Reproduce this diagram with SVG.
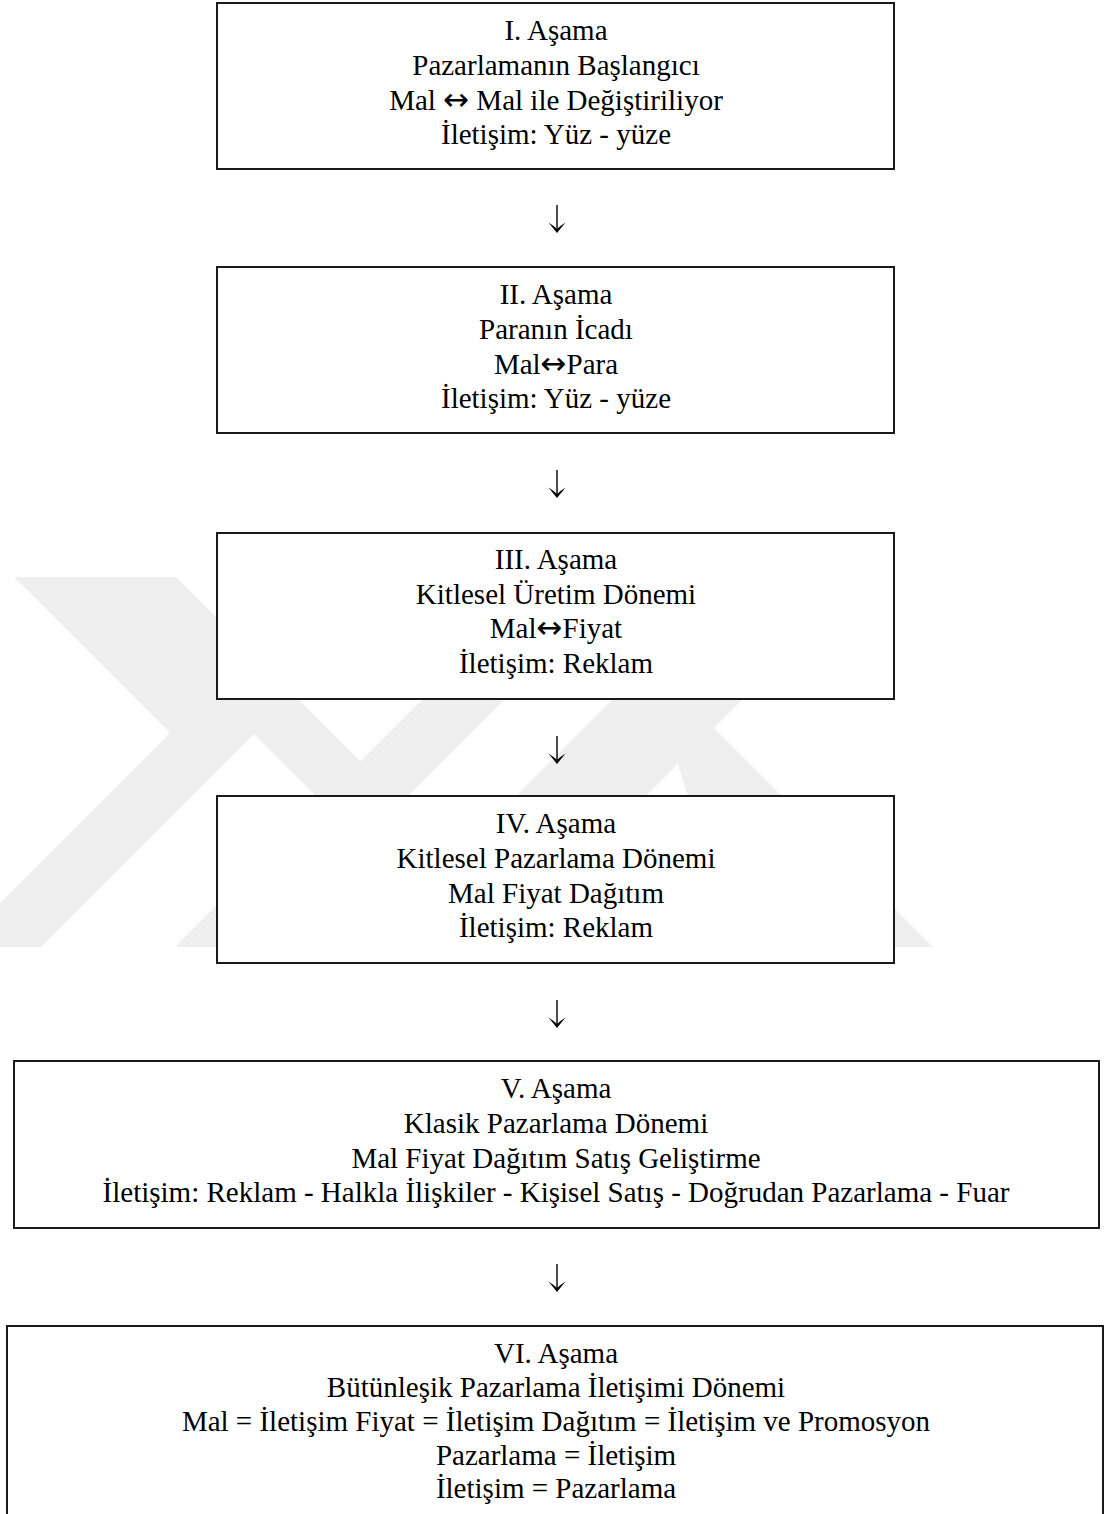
<svg xmlns="http://www.w3.org/2000/svg" width="1104" height="1514" viewBox="0 0 1104 1514">
<style>
.wm{fill:#efefef;}
.box{fill:#fff;stroke:#1a1a1a;stroke-width:2;}
.t{font-family:"Liberation Serif","Times New Roman",serif;font-size:29px;fill:#000;text-anchor:middle;}
.ar{font-family:"DejaVu Sans",sans-serif;font-size:31px;}
</style>
<defs>
<g id="down">
<line x1="0" y1="0" x2="0" y2="25" stroke="#000" stroke-width="1.4"/>
<path d="M0,28 L-8.5,17.5 Q-3,21 0,24 Q3,21 8.5,17.5 Z" fill="#000"/>
</g>
</defs>
<rect width="1104" height="1514" fill="#fff"/>
<g id="watermark">
<polygon class="wm" points="14,577 99,577 255,733 41,947 -44,947 170,733"/>
<polygon class="wm" points="96,577 176,577 401,802 175,947 257,947 321,801"/>
<polygon class="wm" points="175,947 257,947 627,577 545,577"/>
<polygon class="wm" points="365,947 495,947 865,577 735,577"/>
<polygon class="wm" points="649,663 933,947 837,947 688,798"/>
</g>
<g id="connectors">
<use href="#down" x="557" y="205"/>
<use href="#down" x="557" y="470"/>
<use href="#down" x="557" y="736"/>
<use href="#down" x="557" y="1000"/>
<use href="#down" x="557" y="1264"/>
</g>
<g id="node1">
<rect class="box" x="217" y="3" width="677" height="166"/>
<text class="t" x="556" y="40">I. Aşama</text>
<text class="t" x="556" y="75">Pazarlamanın Başlangıcı</text>
<text class="t" x="556" y="110">Mal <tspan class="ar">↔</tspan> Mal ile Değiştiriliyor</text>
<text class="t" x="556" y="144">İletişim: Yüz - yüze</text>
</g>
<g id="node2">
<rect class="box" x="217" y="267" width="677" height="166"/>
<text class="t" x="556" y="304">II. Aşama</text>
<text class="t" x="556" y="339">Paranın İcadı</text>
<text class="t" x="556" y="374">Mal<tspan class="ar">↔</tspan>Para</text>
<text class="t" x="556" y="408">İletişim: Yüz - yüze</text>
</g>
<g id="node3">
<rect class="box" x="217" y="533" width="677" height="166"/>
<text class="t" x="556" y="569">III. Aşama</text>
<text class="t" x="556" y="604">Kitlesel Üretim Dönemi</text>
<text class="t" x="556" y="638">Mal<tspan class="ar">↔</tspan>Fiyat</text>
<text class="t" x="556" y="673">İletişim: Reklam</text>
</g>
<g id="node4">
<rect class="box" x="217" y="796" width="677" height="167"/>
<text class="t" x="556" y="833">IV. Aşama</text>
<text class="t" x="556" y="868">Kitlesel Pazarlama Dönemi</text>
<text class="t" x="556" y="903">Mal Fiyat Dağıtım</text>
<text class="t" x="556" y="937">İletişim: Reklam</text>
</g>
<g id="node5">
<rect class="box" x="14" y="1061" width="1085" height="167"/>
<text class="t" x="556" y="1098">V. Aşama</text>
<text class="t" x="556" y="1133">Klasik Pazarlama Dönemi</text>
<text class="t" x="556" y="1168">Mal Fiyat Dağıtım Satış Geliştirme</text>
<text class="t" x="556" y="1202">İletişim: Reklam - Halkla İlişkiler - Kişisel Satış - Doğrudan Pazarlama - Fuar</text>
</g>
<g id="node6">
<rect class="box" x="7" y="1326" width="1096" height="220"/>
<text class="t" x="556" y="1363">VI. Aşama</text>
<text class="t" x="556" y="1397">Bütünleşik Pazarlama İletişimi Dönemi</text>
<text class="t" x="556" y="1431">Mal = İletişim Fiyat = İletişim Dağıtım = İletişim ve Promosyon</text>
<text class="t" x="556" y="1465">Pazarlama = İletişim</text>
<text class="t" x="556" y="1498">İletişim = Pazarlama</text>
</g>
</svg>
